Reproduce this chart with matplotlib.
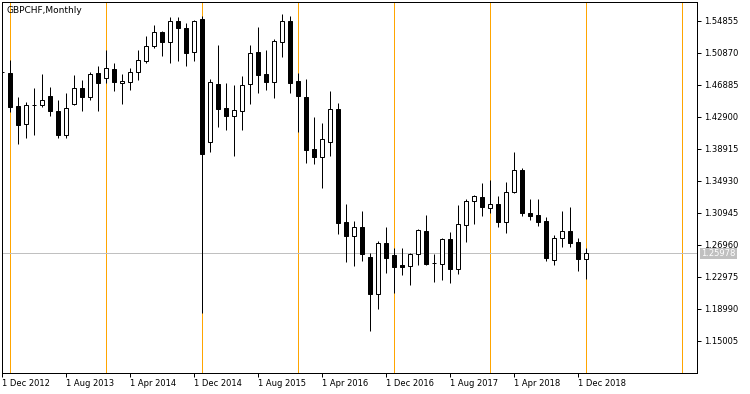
import matplotlib
matplotlib.use("Agg")
import matplotlib.pyplot as plt
from matplotlib.patches import Rectangle
from matplotlib.transforms import blended_transform_factory
import pandas as pd

# ---- data (GBPCHF monthly, Dec 2012 .. Jan 2019) ----
start_month = "2012-12-01"
opens = [1.4855, 1.4842, 1.4423, 1.4199, 1.4437, 1.4436, 1.4552, 1.4365, 1.4070, 1.4448,
         1.4647, 1.4543, 1.4838, 1.4772, 1.4884, 1.4710, 1.4732, 1.4847, 1.4987, 1.5170,
         1.5345, 1.5228, 1.5482, 1.5395, 1.5096, 1.5507, 1.3982, 1.4701, 1.4402, 1.4299,
         1.4361, 1.4697, 1.5096, 1.4822, 1.4722, 1.5220, 1.5486, 1.4742, 1.4539, 1.3891,
         1.3796, 1.3975, 1.4390, 1.2982, 1.2812, 1.2920, 1.2547, 1.2090, 1.2721, 1.2568,
         1.2447, 1.2438, 1.2580, 1.2870, 1.2472, 1.2456, 1.2767, 1.2391, 1.2941, 1.3240,
         1.3290, 1.3153, 1.3203, 1.2986, 1.3360, 1.3636, 1.3094, 1.3070, 1.2995, 1.2505,
         1.2779, 1.2870, 1.2730, 1.2518]
highs = [1.4900, 1.5000, 1.4539, 1.4477, 1.4651, 1.4826, 1.4664, 1.4506, 1.4589, 1.4813,
         1.4747, 1.4850, 1.4925, 1.5124, 1.4966, 1.4826, 1.4900, 1.5124, 1.5299, 1.5436,
         1.5361, 1.5539, 1.5539, 1.5457, 1.5498, 1.5548, 1.4763, 1.5187, 1.4713, 1.4689,
         1.4801, 1.5190, 1.5411, 1.5124, 1.5261, 1.5573, 1.5548, 1.4842, 1.4763, 1.4290,
         1.4215, 1.4614, 1.4464, 1.3207, 1.2999, 1.3119, 1.2593, 1.2750, 1.2916, 1.2655,
         1.2655, 1.2596, 1.2892, 1.3070, 1.2588, 1.2779, 1.2854, 1.3194, 1.3265, 1.3319,
         1.3468, 1.3502, 1.3306, 1.3481, 1.3850, 1.3655, 1.3265, 1.3265, 1.3041, 1.2817,
         1.3119, 1.3165, 1.2779, 1.2655]
lows = [1.4790, 1.4356, 1.3958, 1.4025, 1.4066, 1.4411, 1.4306, 1.4032, 1.4032, 1.4439,
        1.4368, 1.4498, 1.4368, 1.4717, 1.4618, 1.4452, 1.4626, 1.4751, 1.4966, 1.5153,
        1.5053, 1.4966, 1.4991, 1.4929, 1.4987, 1.1846, 1.3858, 1.4169, 1.4132, 1.3808,
        1.4132, 1.4456, 1.4593, 1.4630, 1.4530, 1.5041, 1.4593, 1.4107, 1.3717, 1.3705,
        1.3410, 1.3808, 1.2837, 1.2488, 1.2434, 1.2501, 1.1625, 1.1895, 1.2351, 1.2102,
        1.2326, 1.2202, 1.2443, 1.2443, 1.2239, 1.2264, 1.2217, 1.2339, 1.2737, 1.2954,
        1.3061, 1.3091, 1.2914, 1.2849, 1.3346, 1.3051, 1.3007, 1.2936, 1.2501, 1.2451,
        1.2675, 1.2675, 1.2376, 1.2276]
closes = [1.4845, 1.4418, 1.4194, 1.4436, 1.4434, 1.4502, 1.4361, 1.4070, 1.4398, 1.4647,
          1.4543, 1.4822, 1.4717, 1.4897, 1.4722, 1.4738, 1.4850, 1.4996, 1.5174, 1.5345,
          1.5228, 1.5482, 1.5395, 1.5091, 1.5482, 1.3835, 1.4726, 1.4393, 1.4306, 1.4377,
          1.4685, 1.5083, 1.4817, 1.4722, 1.5233, 1.5482, 1.4717, 1.4555, 1.3883, 1.3796,
          1.4016, 1.4390, 1.2974, 1.2812, 1.2916, 1.2588, 1.2090, 1.2721, 1.2530, 1.2426,
          1.2426, 1.2580, 1.2879, 1.2463, 1.2470, 1.2767, 1.2391, 1.2954, 1.3240, 1.3302,
          1.3173, 1.3203, 1.2986, 1.3352, 1.3628, 1.3098, 1.3061, 1.2986, 1.2538, 1.2779,
          1.2870, 1.2717, 1.2526, 1.25978]
y_ticks = [1.54855, 1.50870, 1.46885, 1.42900, 1.38915, 1.34930,
           1.30945, 1.26960, 1.22975, 1.18990, 1.15005]
x_tick_labels = ["1 Dec 2012", "1 Aug 2013", "1 Apr 2014", "1 Dec 2014", "1 Aug 2015",
                 "1 Apr 2016", "1 Dec 2016", "1 Aug 2017", "1 Apr 2018", "1 Dec 2018"]
title = "GBPCHF,Monthly"
last_price = 1.25978

# ---- figure ----
W, H = 750, 394
fig = plt.figure(figsize=(W / 100, H / 100), dpi=100)
ax = fig.add_axes([2 / W, 21 / H, 695 / W, 371 / H])
px = 0.72  # one pixel in points

n = len(opens)
months = pd.date_range(start_month, periods=n + 14, freq="MS")

ax.set_xlim(-0.05, 86.82)
ax.set_ylim(1.11020, 1.57221)

# year separators (January of each year)
for i, m in enumerate(months):
    if m.month == 1 and i < 87:
        ax.axvline(i, color="#FFA500", lw=px, zorder=1)

# current price line
ax.axhline(last_price, color="#C0C0C0", lw=px, zorder=1.5)

bw = 0.5
for i in range(n):
    o, h, l, c = opens[i], highs[i], lows[i], closes[i]
    ax.vlines(i, l, h, color="black", lw=px, zorder=3)
    bull = c >= o
    bottom = min(o, c)
    height = abs(c - o)
    ax.add_patch(Rectangle((i - bw / 2, bottom), bw, height,
                           facecolor="white" if bull else "black",
                           edgecolor="black", lw=px, zorder=4))

# axes styling
for s in ax.spines.values():
    s.set_linewidth(px)
    s.set_color("black")

ax.yaxis.tick_right()
ax.set_yticks(y_ticks)
ax.set_yticklabels([f"{v:.5f}" for v in y_ticks])
ax.tick_params(axis="y", direction="out", length=3, width=px, pad=2,
               labelsize=6, colors="black")

tick_pos = []
for lab in x_tick_labels:
    d = pd.Timestamp(lab[2:])
    tick_pos.append(list(months).index(d))
ax.set_xticks(tick_pos)
ax.set_xticklabels(x_tick_labels)
ax.tick_params(axis="x", direction="out", length=3, width=px, pad=1.5,
               labelsize=6, colors="black")
for t in ax.get_xticklabels():
    t.set_horizontalalignment("left")

ax.text(0.006, 0.988, title, transform=ax.transAxes, ha="left", va="top",
        fontsize=6.5, color="black")

# last price tag
trans = blended_transform_factory(ax.transAxes, ax.transData)
ax.text(1.006, last_price - 0.0008, f"{last_price:.5f}", transform=trans, ha="left",
        va="center", fontsize=6, color="white", clip_on=False, zorder=10,
        bbox=dict(boxstyle="square,pad=0.12", facecolor="#C0C0C0", edgecolor="none"))

fig.savefig("out.png", dpi=100, facecolor="white")
